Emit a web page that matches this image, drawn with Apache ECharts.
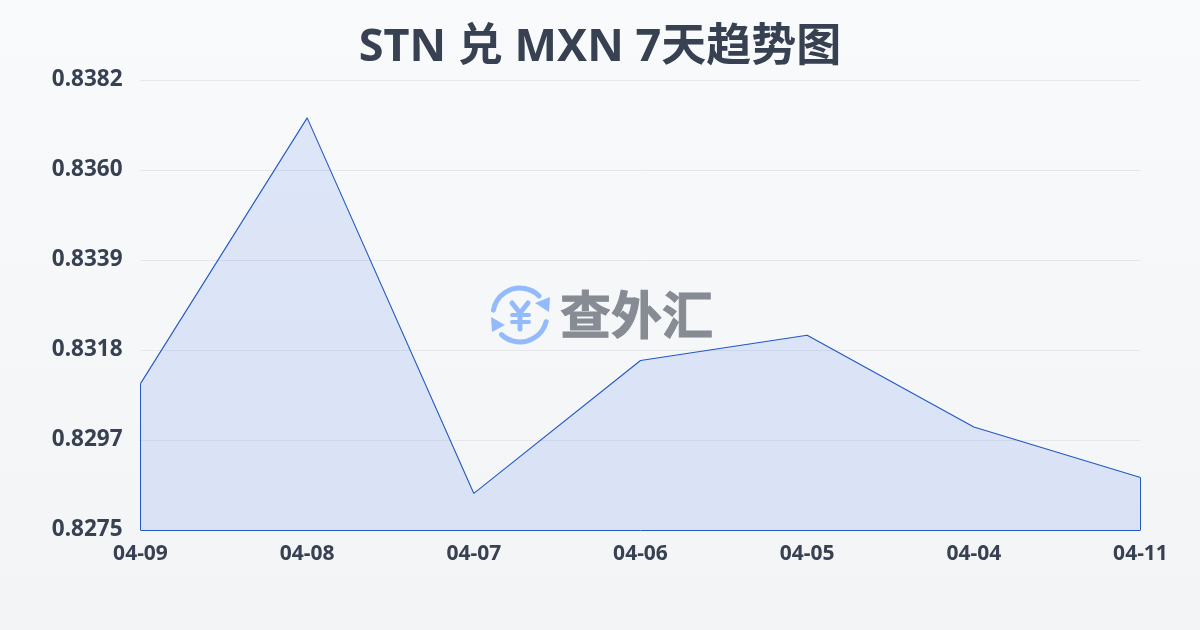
<!DOCTYPE html>
<html><head><meta charset="utf-8">
<style>html,body{margin:0;padding:0;width:1200px;height:630px;overflow:hidden}#c{width:1200px;height:630px}</style>
<script src="https://cdn.jsdelivr.net/npm/echarts@6/dist/echarts.min.js"></script>
</head><body><div id="c"></div>
<script>
const titleText = 'STN 兑 MXN 7天趋势图';
const categories = ['04-09','04-08','04-07','04-06','04-05','04-04','04-11'];
const rates = [0.83098,0.8373,0.82837,0.83153,0.83213,0.82995,0.82875];
const tickValues = [0.8275,0.82964,0.83178,0.83392,0.83606,0.8382];
const tickLabels = ['0.8275','0.8297','0.8318','0.8339','0.8360','0.8382'];
const axisMin = 0.8275, axisMax = 0.8382;
const watermarkText = '查外汇';
const FONT = '"Noto Sans","Noto Sans CJK SC",sans-serif';
const chart = echarts.init(document.getElementById('c'),null,{renderer:'canvas'});
const iconBlue='#93bbfb', lineBlue='#2258c4';
const first=categories[0], last=categories[categories.length-1];
chart.setOption({
  animation:false,
  backgroundColor:{type:'linear',x:0,y:0,x2:0,y2:1,colorStops:[{offset:0,color:'#f8fafc'},{offset:1,color:'#f3f4f6'}]},
  title:{text:titleText,left:'center',top:21,textStyle:{fontFamily:FONT,fontSize:45,fontWeight:'bold',color:'#374151'}},
  grid:{left:140.5,right:59.5,top:80,bottom:100,containLabel:false},
  xAxis:{type:'category',boundaryGap:false,data:categories,
    axisLine:{show:false},axisTick:{show:false},splitLine:{show:false},
    axisLabel:{color:'#374151',fontFamily:FONT,fontSize:21,fontWeight:'bold',margin:14,hideOverlap:false,interval:0,showMinLabel:true,showMaxLabel:true}},
  yAxis:{type:'value',min:axisMin,max:axisMax,
    axisLine:{show:false},axisTick:{show:false,customValues:tickValues},
    splitLine:{show:true,lineStyle:{color:'#e5e7eb',width:1}},
    axisLabel:{customValues:tickValues,color:'#374151',fontFamily:FONT,fontSize:22.5,fontWeight:'bold',margin:18,padding:[0,0,3,0],
      formatter:function(v){return tickLabels[tickValues.indexOf(v)]??v.toFixed(4);}}},
  series:[{type:'line',data:rates,symbol:'none',smooth:false,z:3,
    lineStyle:{color:lineBlue,width:1.1},
    areaStyle:{color:'rgba(37,99,235,0.18)'},
    markLine:{silent:true,symbol:'none',animation:false,label:{show:false},lineStyle:{color:lineBlue,width:1,type:'solid'},
      data:[
        [{coord:[first,axisMin]},{coord:[first,rates[0]]}],
        [{coord:[last,axisMin]},{coord:[last,rates[rates.length-1]]}],
        [{coord:[first,axisMin]},{coord:[last,axisMin]}]
      ]}}],
  graphic:[
    {type:'group',silent:true,z:10,children:[
      {type:'arc',shape:{cx:520,cy:315,r:27,startAngle:-2.96,endAngle:-0.785},style:{fill:'none',stroke:iconBlue,lineWidth:5,lineCap:'round'}},
      {type:'arc',shape:{cx:520,cy:315,r:27,startAngle:0.25,endAngle:2.33},style:{fill:'none',stroke:iconBlue,lineWidth:5,lineCap:'round'}},
      {type:'polygon',shape:{points:[[550,297],[549,312],[535,303]]},style:{fill:iconBlue}},
      {type:'polygon',shape:{points:[[491,317],[492,332],[505,325]]},style:{fill:iconBlue}},
      {type:'polyline',shape:{points:[[512,303],[520,313],[528,303]]},style:{fill:'none',stroke:iconBlue,lineWidth:5,lineCap:'round',lineJoin:'round'}},
      {type:'line',shape:{x1:520,y1:313,x2:520,y2:329},style:{stroke:iconBlue,lineWidth:5,lineCap:'round'}},
      {type:'line',shape:{x1:512,y1:315,x2:529,y2:315},style:{stroke:iconBlue,lineWidth:4,lineCap:'round'}},
      {type:'line',shape:{x1:512,y1:322,x2:529,y2:322},style:{stroke:iconBlue,lineWidth:4,lineCap:'round'}},
      {type:'text',style:{x:560,y:315,text:watermarkText,align:'left',verticalAlign:'middle',fontFamily:'"Noto Sans CJK SC",sans-serif',fontSize:51,fontWeight:'bold',fill:'#868b94',stroke:'#868b94',lineWidth:1}}
    ]}
  ]
});
</script></body></html>
